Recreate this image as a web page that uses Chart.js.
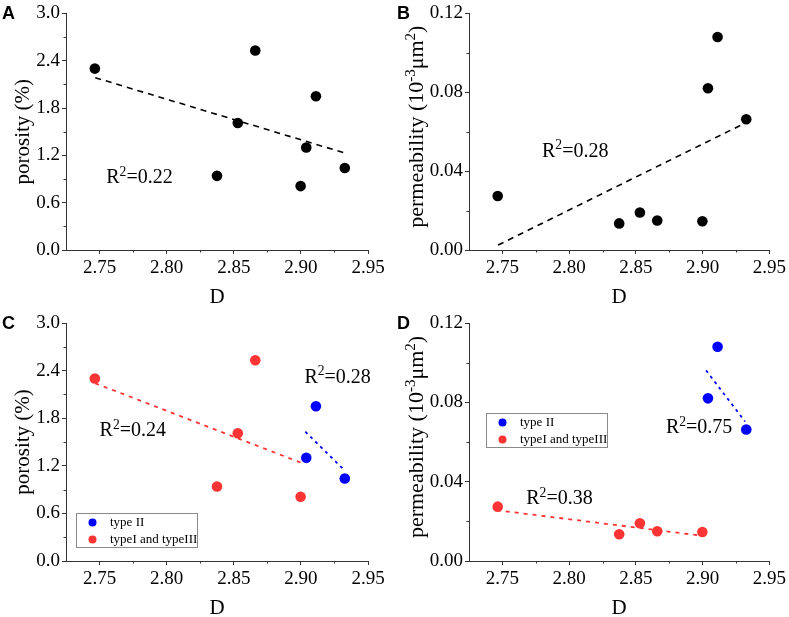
<!DOCTYPE html>
<html>
<head>
<meta charset="utf-8">
<script src="https://cdn.jsdelivr.net/npm/chart.js@4.4.0/dist/chart.umd.min.js"></script>
<style>
  html, body { margin: 0; padding: 0; background: #fff; }
  .panel { position: absolute; width: 394px; height: 308px; }
</style>
</head>
<body>
<div class="panel" style="left:0;top:0"><canvas id="chartA" width="394" height="308"></canvas></div>
<div class="panel" style="left:395px;top:0"><canvas id="chartB" width="394" height="308"></canvas></div>
<div class="panel" style="left:0;top:309px"><canvas id="chartC" width="394" height="308"></canvas></div>
<div class="panel" style="left:395px;top:309px"><canvas id="chartD" width="394" height="308"></canvas></div>
<script>
// fractal dimension D of each sample
const dValues = [2.7465, 2.8375, 2.853, 2.866, 2.8998, 2.904, 2.9112, 2.9327];
const porosity = [2.30, 0.94, 1.61, 2.53, 0.81, 1.30, 1.95, 1.04];
const permeability = [0.0274, 0.0135, 0.019, 0.015, 0.0146, 0.082, 0.108, 0.0663];
const poreType = ["I", "I", "I", "I", "I", "II", "II", "II"]; // "I" = typeI and typeIII

// fitted trend lines (end points)
const fitPorAllX = [2.7468, 2.9325];
const fitPorAllY = [2.185, 1.231];
const fitPermAllX = [2.7468, 2.9328];
const fitPermAllY = [0.0025, 0.0647];
const fitPorRedX = [2.7468, 2.900];
const fitPorRedY = [2.24, 1.24];
const fitPorBlueX = [2.9033, 2.9318];
const fitPorBlueY = [1.63, 1.155];
const fitPermRedX = [2.7458, 2.8989];
const fitPermRedY = [0.0256, 0.0128];
const fitPermBlueX = [2.9026, 2.9318];
const fitPermBlueY = [0.0961, 0.0703];

// axes
const xTicks = [2.75, 2.80, 2.85, 2.90, 2.95];
const xMinor = [2.775, 2.825, 2.875, 2.925];
const porTicks = [0.0, 0.6, 1.2, 1.8, 2.4, 3.0];
const porMinor = [0.3, 0.9, 1.5, 2.1, 2.7];
const permTicks = [0.00, 0.04, 0.08, 0.12];
const permMinor = [0.02, 0.06, 0.10];

const serif = '"Liberation Serif", "Times New Roman", serif';
const sans = '"Liberation Sans", Arial, sans-serif';
const axisColor = "#333";
const blue = "#0000ff";
const red = "#ff3535";

function pts(xs, ys, keep) {
    const out = [];
    xs.forEach((x, i) => { if (!keep || keep(i)) out.push({ x: x, y: ys[i] }); });
    return out;
}

// draws text made of normal / superscript pieces, left aligned on an alphabetic baseline
function drawParts(ctx, parts, x, y, size) {
    let cx = x;
    parts.forEach(p => {
        const s = p.sup ? size * 0.68 : size;
        ctx.font = s + "px " + serif;
        ctx.fillText(p.t, cx, p.sup ? y - size * 0.36 : y);
        cx += ctx.measureText(p.t).width;
    });
    return cx - x;
}

function partsWidth(ctx, parts, size) {
    let w = 0;
    parts.forEach(p => {
        ctx.font = (p.sup ? size * 0.68 : size) + "px " + serif;
        w += ctx.measureText(p.t).width;
    });
    return w;
}

const decor = {
    id: "decor",
    afterDraw(chart, args, o) {
        const ctx = chart.ctx;
        const a = chart.chartArea;
        const xs = chart.scales.x, ys = chart.scales.y;
        ctx.save();
        // minor ticks
        ctx.strokeStyle = axisColor;
        ctx.lineWidth = 1;
        ctx.beginPath();
        o.xMinor.forEach(v => {
            const px = Math.round(xs.getPixelForValue(v)) + 0.5;
            ctx.moveTo(px, a.bottom);
            ctx.lineTo(px, a.bottom + 2.5);
        });
        o.yMinor.forEach(v => {
            const py = Math.round(ys.getPixelForValue(v)) + 0.5;
            ctx.moveTo(a.left, py);
            ctx.lineTo(a.left - 2.5, py);
        });
        ctx.stroke();

        ctx.fillStyle = "#000";
        ctx.textBaseline = "alphabetic";
        ctx.textAlign = "left";

        // panel letter
        ctx.font = "bold 18px " + sans;
        ctx.textBaseline = "top";
        ctx.fillText(o.letter, 2, a.top - 8);
        ctx.textBaseline = "alphabetic";

        // y title (rotated)
        const w = partsWidth(ctx, o.yTitle, o.yTitleSize);
        ctx.save();
        ctx.translate(o.yTitleX, (a.top + a.bottom) / 2 + o.yTitleShift);
        ctx.rotate(-Math.PI / 2);
        drawParts(ctx, o.yTitle, -w / 2, 0, o.yTitleSize);
        ctx.restore();

        // x title
        ctx.font = "21px " + serif;
        ctx.textAlign = "center";
        ctx.fillText("D", (a.left + a.right) / 2, a.bottom + 53);
        ctx.textAlign = "left";

        // R² labels
        o.r2.forEach(r => {
            drawParts(ctx, [{ t: "R" }, { t: "2", sup: true }, { t: "=" + r.text }],
                xs.getPixelForValue(r.x), ys.getPixelForValue(r.y), 20);
        });

        // legend box
        if (o.legend) {
            const L = o.legend;
            ctx.fillStyle = "#fff";
            ctx.fillRect(a.left + L.dx, a.top + L.dy, 121, 34);
            ctx.strokeStyle = "#8a8a8a";
            ctx.lineWidth = 1;
            ctx.strokeRect(a.left + L.dx + 0.5, a.top + L.dy + 0.5, 121, 34);
            const items = chart.data.datasets.filter(d => d.inLegend);
            items.forEach((d, i) => {
                const cy = a.top + L.dy + 9.5 + i * 17;
                ctx.fillStyle = d.backgroundColor;
                ctx.beginPath();
                ctx.arc(a.left + L.dx + 16.5, cy, 4, 0, Math.PI * 2);
                ctx.fill();
                ctx.fillStyle = "#000";
                ctx.font = "13px " + serif;
                ctx.textBaseline = "middle";
                ctx.fillText(d.label, a.left + L.dx + 34, cy + 0.5);
            });
        }
        ctx.restore();
    }
};

function makeChart(id, datasets, yTicks, yMax, yDigits, leftW, topPad, rightPad, deco) {
    return new Chart(document.getElementById(id), {
        type: "scatter",
        data: { datasets: datasets },
        options: {
            responsive: false,
            animation: false,
            layout: { padding: { left: 0, top: topPad, right: rightPad, bottom: 0 } },
            plugins: {
                legend: { display: false },
                tooltip: { enabled: false },
                decor: deco
            },
            scales: {
                x: {
                    type: "linear",
                    min: 2.725,
                    max: 2.95,
                    afterBuildTicks: s => { s.ticks = xTicks.map(v => ({ value: v })); },
                    afterFit: s => { s.height = 308 - topPad - 238; },
                    grid: { drawOnChartArea: false, drawTicks: true, tickLength: 4, color: axisColor, lineWidth: 1 },
                    border: { display: true, color: axisColor, width: 1 },
                    ticks: {
                        font: { family: serif, size: 19 },
                        color: "#000",
                        padding: 3,
                        maxRotation: 0,
                        autoSkip: false,
                        callback: v => v.toFixed(2)
                    }
                },
                y: {
                    type: "linear",
                    min: 0,
                    max: yMax,
                    afterBuildTicks: s => { s.ticks = yTicks.map(v => ({ value: v })); },
                    afterFit: s => { s.width = leftW; },
                    grid: { drawOnChartArea: false, drawTicks: true, tickLength: 4, color: axisColor, lineWidth: 1 },
                    border: { display: true, color: axisColor, width: 1 },
                    ticks: {
                        font: { family: serif, size: 19 },
                        color: "#000",
                        padding: 2,
                        autoSkip: false,
                        callback: v => v.toFixed(yDigits)
                    }
                }
            }
        },
        plugins: [decor]
    });
}

function dots(data, color, label, inLegend) {
    return { label: label, inLegend: inLegend, data: data, backgroundColor: color, pointRadius: 5.3,
             pointHoverRadius: 5.3, pointBorderWidth: 0, borderWidth: 0 };
}
function fit(xs, ys, color, dash, width) {
    return { data: pts(xs, ys), showLine: true, borderColor: color, borderWidth: width,
             borderDash: dash, pointRadius: 0, pointHoverRadius: 0, fill: false };
}

const isII = i => poreType[i] === "II";
const isI = i => poreType[i] !== "II";
const porTitle = [{ t: "porosity (%)" }];
const permTitle = [{ t: "permeability (10" }, { t: "-3", sup: true }, { t: "\u03bcm" }, { t: "2", sup: true }, { t: ")" }];

makeChart("chartA", [
    fit(fitPorAllX, fitPorAllY, "#000", [6, 5], 1.6),
    dots(pts(dValues, porosity), "#000", "all", false)
], porTicks, 3.0, 1, 66, 12, 26, {
    letter: "A", yTitle: porTitle, yTitleX: 29, yTitleSize: 21, yTitleShift: 0,
    xMinor: xMinor, yMinor: porMinor,
    r2: [{ text: "0.22", x: 2.755, y: 0.845 }]
});

makeChart("chartB", [
    fit(fitPermAllX, fitPermAllY, "#000", [6, 5], 1.6),
    dots(pts(dValues, permeability), "#000", "all", false)
], permTicks, 0.12, 2, 74, 12, 18, {
    letter: "B", yTitle: permTitle, yTitleX: 28, yTitleSize: 22, yTitleShift: -5,
    xMinor: xMinor, yMinor: permMinor,
    r2: [{ text: "0.28", x: 2.7797, y: 0.0474 }]
});

makeChart("chartC", [
    fit(fitPorRedX, fitPorRedY, red, [4, 5], 1.8),
    fit(fitPorBlueX, fitPorBlueY, blue, [3, 4], 1.8),
    dots(pts(dValues, porosity, isII), blue, "type II", true),
    dots(pts(dValues, porosity, isI), red, "typeI and typeIII", true)
], porTicks, 3.0, 1, 66, 14, 26, {
    letter: "C", yTitle: porTitle, yTitleX: 29, yTitleSize: 21, yTitleShift: 0,
    xMinor: xMinor, yMinor: porMinor,
    r2: [{ text: "0.24", x: 2.75, y: 1.576 }, { text: "0.28", x: 2.9026, y: 2.25 }],
    legend: { dx: 10, dy: 190 }
});

makeChart("chartD", [
    fit(fitPermRedX, fitPermRedY, red, [4, 5], 1.8),
    fit(fitPermBlueX, fitPermBlueY, blue, [3, 4], 1.8),
    dots(pts(dValues, permeability, isII), blue, "type II", true),
    dots(pts(dValues, permeability, isI), red, "typeI and typeIII", true)
], permTicks, 0.12, 2, 74, 14, 18, {
    letter: "D", yTitle: permTitle, yTitleX: 28, yTitleSize: 22, yTitleShift: -5,
    xMinor: xMinor, yMinor: permMinor,
    r2: [{ text: "0.38", x: 2.7679, y: 0.0287 }, { text: "0.75", x: 2.8725, y: 0.0644 }],
    legend: { dx: 17, dy: 90 }
});
</script>
</body>
</html>
